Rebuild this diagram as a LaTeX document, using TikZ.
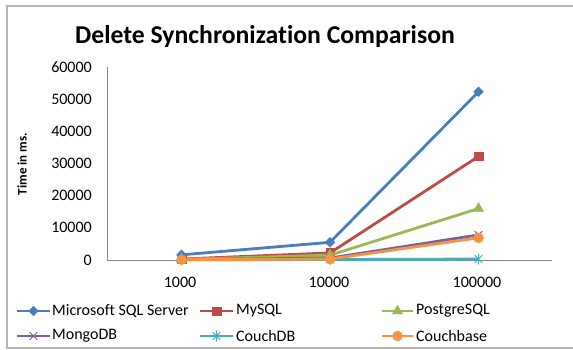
\documentclass[tikz,border=0pt]{standalone}
\usepackage{fontspec}
\setmainfont[Ligatures=NoCommon]{Carlito}
\usetikzlibrary{shapes.geometric,calc}

\definecolor{msblue}{HTML}{4A7EBB}
\definecolor{msred}{HTML}{BE4B48}
\definecolor{msgreen}{HTML}{98B954}
\definecolor{mspurple}{HTML}{7D60A0}
\definecolor{msaqua}{HTML}{46AAC5}
\definecolor{msorange}{HTML}{F69240}
\definecolor{framegray}{HTML}{B4B4B4}
\definecolor{axisgray}{HTML}{868686}

\tikzset{
  series/.style={line width=2.8pt, line join=round},
  ptdiamond/.style={diamond, fill=#1, draw=#1, inner sep=0pt, minimum size=10pt},
  ptsquare/.style={rectangle, fill=#1, draw=#1, inner sep=0pt, minimum size=8.5pt},
  pttri/.style={regular polygon, regular polygon sides=3, fill=#1, draw=#1, inner sep=0pt, minimum size=12pt},
  ptcircle/.style={circle, fill=#1, draw=#1, inner sep=0pt, minimum size=10pt},
  ptcross/.style={circle, inner sep=0pt, minimum size=11pt,
    path picture={\draw[#1, line width=1pt]
      (path picture bounding box.north west) -- (path picture bounding box.south east)
      (path picture bounding box.north east) -- (path picture bounding box.south west);}},
  ptast/.style={circle, inner sep=0pt, minimum size=11pt,
    path picture={\draw[#1, line width=1pt]
      (path picture bounding box.north west) -- (path picture bounding box.south east)
      (path picture bounding box.north east) -- (path picture bounding box.south west)
      (path picture bounding box.north) -- (path picture bounding box.south);}},
  ylab/.style={anchor=east, inner sep=0pt, font=\fontsize{16}{19}\selectfont},
  xlab/.style={inner sep=0pt, font=\fontsize{16}{19}\selectfont},
  leglab/.style={anchor=west, inner sep=0pt, font=\fontsize{16}{19}\selectfont},
}

\begin{document}
\begin{tikzpicture}[x=1pt,y=-1pt]
\useasboundingbox (0,0) rectangle (573,350);
% Frame
\draw[framegray, line width=2pt] (573,6) -- (7,6) -- (7,348) -- (573,348);
% Title
\node[font=\bfseries\fontsize{25.7}{30}\selectfont] (title) at (265,37) {Delete Synchronization Comparison};
\node[rotate=90, font=\bfseries\fontsize{13}{15}\selectfont] (ytitle) at (22,164) {Time in ms.};
% Axes
\coordinate (O) at (107,260);
\coordinate (YE) at (107,67);
\coordinate (XE) at (552,260);
\draw[axisgray, line width=1pt] (YE) -- (O) -- (XE);
% Y labels
\node[ylab] (Y0) at (92,260) {0};
\node[ylab] (Y1) at (92,227.8) {10000};
\node[ylab] (Y2) at (92,195.7) {20000};
\node[ylab] (Y3) at (92,163.5) {30000};
\node[ylab] (Y4) at (92,131.3) {40000};
\node[ylab] (Y5) at (92,99.2) {50000};
\node[ylab] (Y6) at (92,67) {60000};
% X labels
\node[xlab] (X1) at (180,282) {1000};
\node[xlab] (X2) at (329,282) {10000};
\node[xlab] (X3) at (477,282) {100000};
% Data (values in thousands of ms)
\begin{scope}[shift={(0,260)}, y=3.2167pt]
  % Microsoft SQL Server
  \coordinate (A1) at (181.5,1.6);
  \coordinate (A2) at (330,5.5);
  \coordinate (A3) at (478.5,52.3);
  % MySQL
  \coordinate (B1) at (181.5,0.3);
  \coordinate (B2) at (330,2.2);
  \coordinate (B3) at (478.5,32.2);
  % PostgreSQL
  \coordinate (C1) at (181.5,0.2);
  \coordinate (C2) at (330,1.5);
  \coordinate (C3) at (478.5,16.0);
  % MongoDB
  \coordinate (D1) at (181.5,0.1);
  \coordinate (D2) at (330,0.6);
  \coordinate (D3) at (478.5,7.8);
  % CouchDB
  \coordinate (E1) at (181.5,0.05);
  \coordinate (E2) at (330,0.15);
  \coordinate (E3) at (478.5,0.3);
  % Couchbase
  \coordinate (F1) at (181.5,0.1);
  \coordinate (F2) at (330,0.3);
  \coordinate (F3) at (478.5,6.9);
\end{scope}
% Lines and markers
\draw[series, msblue] (A1) -- (A2) -- (A3);
\node[ptdiamond=msblue] at (A1) {};
\node[ptdiamond=msblue] at (A2) {};
\node[ptdiamond=msblue] at (A3) {};
\draw[series, msred] (B1) -- (B2) -- (B3);
\node[ptsquare=msred] at (B1) {};
\node[ptsquare=msred] at (B2) {};
\node[ptsquare=msred] at (B3) {};
\draw[series, msgreen] (C1) -- (C2) -- (C3);
\node[pttri=msgreen] at (C1) {};
\node[pttri=msgreen] at (C2) {};
\node[pttri=msgreen] at (C3) {};
\draw[series, mspurple] (D1) -- (D2) -- (D3);
\node[ptcross=mspurple] at (D1) {};
\node[ptcross=mspurple] at (D2) {};
\node[ptcross=mspurple] at (D3) {};
\draw[series, msaqua] (E1) -- (E2) -- (E3);
\node[ptast=msaqua] at (E1) {};
\node[ptast=msaqua] at (E2) {};
\node[ptast=msaqua] at (E3) {};
\draw[series, msorange] (F1) -- (F2) -- (F3);
\node[ptcircle=msorange] at (F1) {};
\node[ptcircle=msorange] at (F2) {};
\node[ptcircle=msorange] at (F3) {};
% Legend
\coordinate (LA0) at (17,311);  \coordinate (LA1) at (50,311);
\coordinate (LB0) at (200,311); \coordinate (LB1) at (233,311);
\coordinate (LC0) at (382,311); \coordinate (LC1) at (413,311);
\coordinate (LD0) at (17,336);  \coordinate (LD1) at (50,336);
\coordinate (LE0) at (200,336); \coordinate (LE1) at (233,336);
\coordinate (LF0) at (382,336); \coordinate (LF1) at (413,336);
\draw[series, msblue] (LA0) -- (LA1);
\node[ptdiamond=msblue] at ($(LA0)!0.5!(LA1)$) {};
\node[leglab] (LA) at (52,311) {Microsoft SQL Server};
\draw[series, msred] (LB0) -- (LB1);
\node[ptsquare=msred] at ($(LB0)!0.5!(LB1)$) {};
\node[leglab] (LB) at (236,311) {MySQL};
\draw[series, msgreen] (LC0) -- (LC1);
\node[pttri=msgreen] at ($(LC0)!0.5!(LC1)$) {};
\node[leglab] (LC) at (416,311) {PostgreSQL};
\draw[series, mspurple] (LD0) -- (LD1);
\node[ptcross=mspurple] at ($(LD0)!0.5!(LD1)$) {};
\node[leglab] (LD) at (52,336) {MongoDB};
\draw[series, msaqua] (LE0) -- (LE1);
\node[ptast=msaqua] at ($(LE0)!0.5!(LE1)$) {};
\node[leglab] (LE) at (236,336) {CouchDB};
\draw[series, msorange] (LF0) -- (LF1);
\node[ptcircle=msorange] at ($(LF0)!0.5!(LF1)$) {};
\node[leglab] (LF) at (416,336) {Couchbase};
\end{tikzpicture}
\end{document}
